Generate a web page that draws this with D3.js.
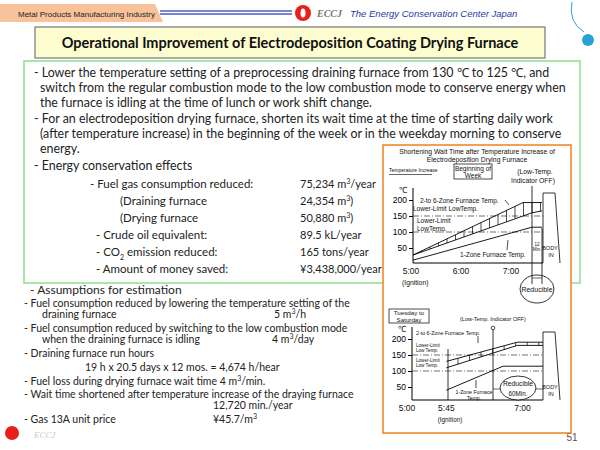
<!DOCTYPE html>
<html><head><meta charset="utf-8">
<script src="https://cdn.jsdelivr.net/npm/d3@7"></script>
<style>body{margin:0;background:#fff}</style>
</head><body><svg id="c" width="600" height="450"></svg>
<script>
// ---- data ----
const tempTicks = [50, 100, 150, 200];
const lowerLimits = [100, 150];
// top panel (Beginning of Week): hours after 0:00
const topTimes = ["5:00", "6:00", "7:00"];
const topTickHours = [5, 6, 7];
const topUpper = [[5.04, 28], [7.24, 192], [7.62, 192]];
const topLower = [[5.04, 28], [7.42, 160], [7.62, 166]];
const topOneZone = [[5.04, 12], [7.42, 115], [7.62, 115]];
// bottom panel (Tuesday to Saturday)
const botTimes = ["5:00", "5:45", "7:00"];
const botTickHours = [5, 5.75, 7.2];
const botUpper = [[5.75, 130], [7.1, 190], [7.6, 190]];
const botLower = [[5.75, 110], [7.1, 180], [7.6, 180]];
const botOneZone = [[5.75, 40], [6.83, 115], [7.6, 115]];

const svg = d3.select("#c");
const T = (x, y, s, o = {}) => {
  const t = svg.append("text").attr("x", x).attr("y", y).attr("font-size", o.size || 12.5)
    .attr("fill", o.fill || "#222").attr("text-anchor", o.anchor || "start")
    .style("font-family", o.family || "Lato, 'Open Sans', sans-serif");
  if (o.weight) t.attr("font-weight", o.weight);
  if (o.style) t.attr("font-style", o.style);
  t.html(s); return t;
};

// ---- header ----
svg.append("path").attr("d", "M0,4 H155 L163,22 H0Z").attr("fill", "#f8c39a");
T(18, 17, "Metal Products Manufacturing Industry", {size: 8, family: "Liberation Sans"});
[11, 14].forEach(y => svg.append("line").attr("x1", 160).attr("x2", 292).attr("y1", y).attr("y2", y).attr("stroke", "#4a5fc0").attr("stroke-width", 1.5));
svg.append("circle").attr("cx", 303).attr("cy", 13).attr("r", 8).attr("fill", "#e8201a");
svg.append("ellipse").attr("cx", 303).attr("cy", 13).attr("rx", 2.5).attr("ry", 4.5).attr("fill", "#fff");
T(317, 17, "ECCJ", {size: 10, family: "Liberation Serif", style: "italic", weight: "bold", fill: "#777"});
T(350, 17, "The Energy Conservation Center Japan", {size: 9.5, family: "Liberation Sans", style: "italic", fill: "#1f3a9e"});
svg.append("path").attr("d", "M572,2 Q568,22 584,32").attr("fill", "none").attr("stroke", "#2aa0d0");
svg.append("circle").attr("cx", 588).attr("cy", 40).attr("r", 6).attr("fill", "#29a3d6");
svg.append("rect").attr("x", 35).attr("y", 27).attr("width", 510).attr("height", 31).attr("fill", "#fefdd0").attr("stroke", "#777").attr("stroke-width", 1.2);
T(290, 48, "Operational Improvement of Electrodeposition Coating Drying Furnace", {size: 14.5, weight: "bold", anchor: "middle", fill: "#111"});

// ---- green box ----
svg.append("rect").attr("x", 24).attr("y", 61).attr("width", 556).attr("height", 222).attr("fill", "none").attr("stroke", "#8de08d").attr("stroke-width", 1.5);
const intro = [
  [34, 77, "- Lower the temperature setting of a preprocessing draining furnace from 130 ℃ to 125 ℃, and"],
  [40, 92, "switch from the regular combustion mode to the low combustion mode to conserve energy when"],
  [40, 107, "the furnace is idling at the time of lunch or work shift change."],
  [34, 123, "- For an electrodeposition drying furnace, shorten its wait time at the time of starting daily work"],
  [40, 138, "(after temperature increase) in the beginning of the week or in the weekday morning to conserve"],
  [40, 153, "energy."],
  [34, 170, "- Energy conservation effects"]];
intro.forEach(d => T(d[0], d[1], d[2], {size: 12.4}));
const effects = [
  [90, 188, "- Fuel gas consumption reduced:", "75,234 m<tspan baseline-shift='super' font-size='7'>3</tspan>/year"],
  [120, 205, "(Draining furnace", "24,354 m<tspan baseline-shift='super' font-size='7'>3</tspan>)"],
  [120, 222, "(Drying furnace", "50,880 m<tspan baseline-shift='super' font-size='7'>3</tspan>)"],
  [96, 239, "- Crude oil equivalent:", "89.5 kL/year"],
  [96, 256, "- CO<tspan baseline-shift='sub' font-size='7'>2</tspan> emission reduced:", "165 tons/year"],
  [96, 273, "- Amount of money saved:", "¥3,438,000/year"]];
effects.forEach(d => { T(d[0], d[1], d[2], {size: 11.5}); T(300, d[1], d[3], {size: 11}); });

// ---- assumptions ----
const assum = [
  [30, 294, "- Assumptions for estimation", 12],
  [24, 307, "- Fuel consumption reduced by lowering the temperature setting of the", 10.5],
  [42, 318, "draining furnace", 10.5],
  [24, 332, "- Fuel consumption reduced by switching to the low combustion mode", 10.5],
  [42, 343, "when the draining furnace is idling", 10.5],
  [24, 357, "- Draining furnace run hours", 10.5],
  [85, 371, "19 h x 20.5 days x 12 mos. = 4,674 h/hear", 10.5],
  [24, 385, "- Fuel loss during drying furnace wait time  4 m<tspan baseline-shift='super' font-size='7'>3</tspan>/min.", 10.5],
  [24, 398, "- Wait time shortened after temperature increase of the draying furnace", 10.5],
  [213, 409, "12,720 min./year", 10.5],
  [24, 423, "- Gas 13A unit price", 10.5],
  [213, 423, "¥45.7/m<tspan baseline-shift='super' font-size='7'>3</tspan>", 10.5],
  [274, 318, "5 m<tspan baseline-shift='super' font-size='7'>3</tspan>/h", 10.5],
  [272, 343, "4 m<tspan baseline-shift='super' font-size='7'>3</tspan>/day", 10.5]];
assum.forEach(d => T(d[0], d[1], d[2], {size: d[3]}));
svg.append("circle").attr("cx", 12).attr("cy", 433).attr("r", 7).attr("fill", "#e8201a");
T(34, 438, "ECCJ", {size: 9, family: "Liberation Serif", style: "italic", fill: "#ccc"});
T(572, 441, "51", {size: 10, anchor: "middle", fill: "#555", family: "Liberation Sans"});

// ---- orange panel ----
svg.append("rect").attr("x", 383).attr("y", 145).attr("width", 188).attr("height", 288).attr("fill", "#fff").attr("stroke", "#f08020").attr("stroke-width", 1.5);
const sm = (x, y, s, sz = 7, a = "start") => T(x, y, s, {size: sz, family: "Liberation Sans", anchor: a, fill: "#111"});
sm(477, 154, "Shortening Wait Time after Temperature Increase of", 6.8, "middle");
sm(477, 162, "Electrodeposition Drying Furnace", 6.8, "middle");

function panel(o) {
  const g = svg.append("g");
  const x = d3.scaleLinear().domain([5, 7]).range([o.x5, o.x7]);
  const y = d3.scaleLinear().domain([0, 200]).range([o.y0, o.y200]);
  const ax = g.append("g").attr("transform", `translate(${o.axX},0)`).call(d3.axisLeft(y).tickValues(tempTicks).tickSize(4).tickPadding(2));
  ax.select(".domain").attr("d", `M0,${o.axBot}V${o.axTop}`);
  ax.selectAll("text").attr("font-size", 8.5).style("font-family", "Liberation Sans");
  g.append("line").attr("x1", o.axX).attr("x2", o.bodyX).attr("y1", o.axBot).attr("y2", o.axBot).attr("stroke", "#000");
  sm(o.axX - 14, y(222), "℃", 8.5);
  o.times.forEach((t, i) => sm(x(o.tickH[i]), o.axBot + 11, t, 8.5, "middle"));
  lowerLimits.forEach(v => g.append("line").attr("x1", o.axX).attr("x2", o.bodyX).attr("y1", y(v)).attr("y2", y(v))
    .attr("stroke", "#333").attr("stroke-width", 0.7).attr("stroke-dasharray", "6,2,1,2"));
  const line = d3.line().x(d => x(d[0])).y(d => y(d[1]));
  [o.up, o.lo, o.one].forEach(d => g.append("path").attr("d", line(d)).attr("fill", "none").attr("stroke", "#000").attr("stroke-width", 0.9));
  const iu = h => d3.scaleLinear().domain(o.up.map(p => p[0])).range(o.up.map(p => p[1]))(h);
  const il = h => d3.scaleLinear().domain(o.lo.map(p => p[0])).range(o.lo.map(p => p[1]))(h);
  d3.range(o.up[0][0] + o.hs, o.up[2][0], o.hs).forEach(h => g.append("line").attr("x1", x(h)).attr("x2", x(h))
    .attr("y1", y(iu(h))).attr("y2", y(il(h))).attr("stroke", "#000").attr("stroke-width", 0.7));
  g.append("path").attr("d", `M${o.bodyX},${o.axBot}V${o.bodyTop}H${o.bodyX + 12}L${o.bodyX + 17},${o.axBot}`).attr("fill", "#fff").attr("stroke", "#000").attr("stroke-width", 0.8);
  sm(o.bodyX + 7, y(45), "BODY", 5.5, "middle"); sm(o.bodyX + 8, y(22), "IN", 5.5, "middle");
  return {x, y, g};
}

panel({x5: 411, x7: 511, y0: 264, y200: 200, axX: 413, axTop: 188, axBot: 263, bodyX: 543, bodyTop: 193,
  times: topTimes, tickH: topTickHours, up: topUpper, lo: topLower, one: topOneZone, hs: 0.17});
svg.append("rect").attr("x", 389).attr("y", 174).attr("width", 43).attr("height", 0.6).attr("fill", "#000");
sm(389, 172, "Temperature Increase", 5);
svg.append("rect").attr("x", 454).attr("y", 164).attr("width", 38).attr("height", 15).attr("fill", "none").attr("stroke", "#000").attr("stroke-width", 0.7);
sm(473, 171, "Beginning of", 6.5, "middle"); sm(473, 178, "Week", 6.5, "middle");
sm(535, 174, "(Low-Temp.", 6.8, "middle"); sm(533, 183, "Indicator OFF)", 6.8, "middle");
sm(420, 203, "2-to 6-Zone Furnace Temp.", 6.5); sm(413, 211, "Lower-Limit LowTemp.", 6.5);
sm(417, 223, "Lower-Limit", 6.5); sm(417, 231, "LowTemp.", 6.5);
sm(460, 257, "1-Zone Furnace Temp.", 6.5);
[[505, 200, 509, 205], [507, 250, 508, 240]].forEach(a => svg.append("line").attr("x1", a[0]).attr("y1", a[1]).attr("x2", a[2]).attr("y2", a[3]).attr("stroke", "#000").attr("stroke-width", 0.7));
svg.append("line").attr("x1", 532).attr("x2", 532).attr("y1", 186).attr("y2", 284).attr("stroke", "#000").attr("stroke-width", 0.8);
svg.append("line").attr("x1", 542).attr("x2", 542).attr("y1", 228).attr("y2", 284).attr("stroke", "#000").attr("stroke-width", 0.8);
svg.append("line").attr("x1", 532).attr("x2", 542).attr("y1", 278).attr("y2", 278).attr("stroke", "#000").attr("stroke-width", 0.6);
sm(537, 246, "12", 4.5, "middle"); sm(537, 251, "Min.", 4.5, "middle");
sm(402, 285, "(Ignition)", 6.8);
svg.append("ellipse").attr("cx", 537).attr("cy", 289).attr("rx", 17).attr("ry", 14).attr("fill", "none").attr("stroke", "#000").attr("stroke-width", 0.8);
sm(537, 292, "Reducible", 7, "middle");

panel({x5: 407, x7: 512, y0: 403, y200: 339, axX: 412, axTop: 327, axBot: 400, bodyX: 543, bodyTop: 332,
  times: botTimes, tickH: botTickHours, up: botUpper, lo: botLower, one: botOneZone, hs: 0.22});
svg.append("rect").attr("x", 389).attr("y", 309).attr("width", 40).attr("height", 14).attr("fill", "none").attr("stroke", "#000").attr("stroke-width", 0.7);
sm(409, 315, "Tuesday to", 6.2, "middle"); sm(409, 322, "Saturday", 6.2, "middle");
sm(460, 321, "(Low-Temp. Indicator OFF)", 5.5);
svg.append("line").attr("x1", 448).attr("x2", 448).attr("y1", 349).attr("y2", 400).attr("stroke", "#000").attr("stroke-width", 0.8);
svg.append("line").attr("x1", 493).attr("x2", 493).attr("y1", 329).attr("y2", 400).attr("stroke", "#000").attr("stroke-width", 0.8);
svg.append("circle").attr("cx", 493).attr("cy", 328).attr("r", 1.8).attr("fill", "#fff").attr("stroke", "#000").attr("stroke-width", 0.7);
sm(416, 335, "2-to 6-Zone  Furnace Temp.", 5.3);
sm(416, 347, "Lower-Limit", 4.6); sm(416, 352, "Low Temp.", 4.6);
sm(416, 362, "Lower-Limit", 4.6); sm(416, 367, "Low Temp.", 4.6);
sm(474, 394, "1-Zone Furnace", 5.2, "middle"); sm(474, 400, "Temp.", 5.2, "middle");
svg.append("line").attr("x1", 476).attr("x2", 476).attr("y1", 388).attr("y2", 380).attr("stroke", "#000").attr("stroke-width", 0.7);
svg.append("line").attr("x1", 478).attr("x2", 478).attr("y1", 336).attr("y2", 343).attr("stroke", "#000").attr("stroke-width", 0.7);
svg.append("line").attr("x1", 493).attr("x2", 543).attr("y1", 389).attr("y2", 389).attr("stroke", "#000").attr("stroke-width", 0.6);
svg.append("ellipse").attr("cx", 518).attr("cy", 388).attr("rx", 18).attr("ry", 12).attr("fill", "#fff").attr("stroke", "#000").attr("stroke-width", 0.8);
sm(518, 386, "Reducible", 6.8, "middle"); sm(518, 396, "60Min.", 6.3, "middle");
sm(450, 422, "(Ignition)", 6.3, "middle");
</script></body></html>
